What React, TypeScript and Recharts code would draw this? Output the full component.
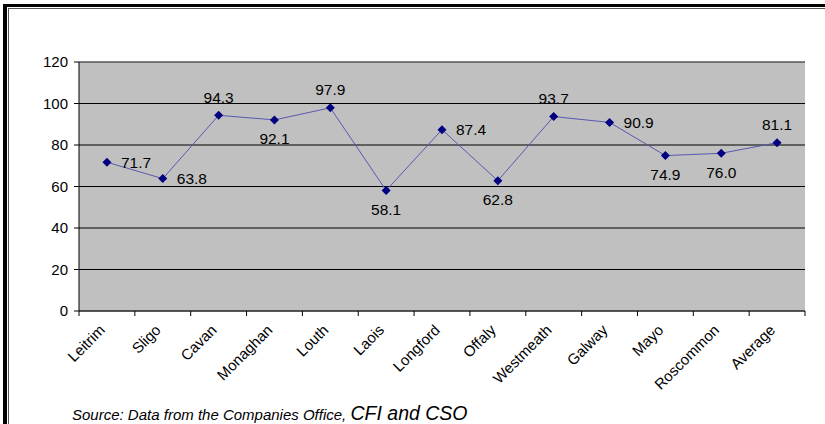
import { CartesianGrid, LabelList, Line, LineChart, ReferenceLine, XAxis, YAxis } from 'recharts';

const counties = ['Leitrim', 'Sligo', 'Cavan', 'Monaghan', 'Louth', 'Laois', 'Longford', 'Offaly', 'Westmeath', 'Galway', 'Mayo', 'Roscommon', 'Average'];
const values = [71.7, 63.8, 94.3, 92.1, 97.9, 58.1, 87.4, 62.8, 93.7, 90.9, 74.9, 76.0, 81.1];
// where each value label sits relative to its marker
const labelSides = ['right', 'right', 'top', 'bottom', 'top', 'bottom', 'right', 'bottom', 'top', 'right', 'bottom', 'bottom', 'top'];
const yTicks = [0, 20, 40, 60, 80, 100, 120];

const data = counties.map((county, i) => ({ county, value: values[i] }));

const W = 825;
const H = 424;
const MARGIN = { top: 62, right: 20, bottom: 0, left: 0 };
const Y_AXIS_W = 79;
const X_AXIS_H = 113;
const BAND = (W - MARGIN.left - MARGIN.right - Y_AXIS_W) / counties.length;
const FONT = '"Liberation Sans", Arial, sans-serif';

function CountyTick(props: any) {
  const { x, y, payload, index } = props;
  const half = BAND / 2;
  const last = index === counties.length - 1;
  const ax = x - 1;
  const ay = y + 20;
  return (
    <g>
      <line x1={x - half} x2={x - half} y1={y} y2={y + 5} stroke="#000" />
      {last && <line x1={x + half} x2={x + half} y1={y} y2={y + 5} stroke="#000" />}
      <text x={ax} y={ay} textAnchor="end" transform={`rotate(-45 ${ax} ${ay})`} fontSize={15} fontFamily={FONT} fill="#000">
        {payload.value}
      </text>
    </g>
  );
}

function Diamond(props: any) {
  const { cx, cy, index } = props;
  const r = 4.5;
  return <path key={index} d={`M${cx},${cy - r}L${cx + r},${cy}L${cx},${cy + r}L${cx - r},${cy}Z`} fill="#000080" />;
}

function ValueLabel(props: any) {
  const { x, y, value, index } = props;
  const side = labelSides[index];
  let tx = x;
  let ty = y;
  let anchor: 'start' | 'middle' = 'middle';
  if (side === 'right') {
    tx = x + 14;
    anchor = 'start';
  } else if (side === 'top') {
    ty = y - 18;
  } else {
    ty = y + 19;
  }
  return (
    <text x={tx} y={ty} textAnchor={anchor} dominantBaseline="central" fontSize={15.5} fontFamily={FONT} fill="#000">
      {Number(value).toFixed(1)}
    </text>
  );
}

export default function App() {
  return (
    <div style={{ position: 'absolute', left: 0, top: 0, width: W, height: H, background: '#fff', overflow: 'hidden' }}>
      {/* double frame, top and left edges */}
      <div style={{ position: 'absolute', left: 3, top: 4, width: W, height: H, borderTop: '3px solid #000', borderLeft: '4px solid #000' }} />
      <div style={{ position: 'absolute', left: 8, top: 8, width: W, height: H, borderTop: '1px solid #555', borderLeft: '1px solid #555' }} />
      <LineChart width={W} height={H} data={data} margin={MARGIN} style={{ position: 'absolute', left: 0, top: 0 }}>
        <CartesianGrid vertical={false} stroke="#000" fill="#C0C0C0" fillOpacity={1} />
        <XAxis
          dataKey="county"
          scale="band"
          interval={0}
          height={X_AXIS_H}
          tickSize={0}
          tickMargin={0}
          tickLine={false}
          axisLine={{ stroke: '#333' }}
          tick={<CountyTick />}
        />
        <YAxis
          domain={[0, 120]}
          ticks={yTicks}
          width={Y_AXIS_W}
          tickSize={5}
          tickMargin={6}
          axisLine={{ stroke: '#000' }}
          tickLine={{ stroke: '#000' }}
          tick={{ fill: '#000', fontSize: 15, fontFamily: FONT }}
        />
        <YAxis yAxisId="frame" orientation="right" width={0} domain={[0, 120]} tick={false} tickLine={false} axisLine={{ stroke: '#808080' }} />
        <ReferenceLine y={120} stroke="#808080" />
        <Line dataKey="value" stroke="#5858B0" strokeWidth={1} dot={<Diamond />} activeDot={false} isAnimationActive={false}>
          <LabelList dataKey="value" content={<ValueLabel />} />
        </Line>
      </LineChart>
      <div style={{ position: 'absolute', left: 72, top: 402, fontFamily: FONT, fontStyle: 'italic', color: '#000', whiteSpace: 'nowrap' }}>
        <span style={{ fontSize: 15 }}>Source: Data from the Companies Office, </span>
        <span style={{ fontSize: 19.5 }}>CFI and CSO</span>
      </div>
    </div>
  );
}
